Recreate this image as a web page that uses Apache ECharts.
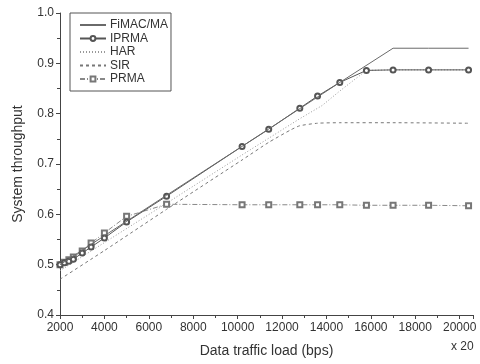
<!DOCTYPE html>
<html>
<head>
<meta charset="utf-8">
<script src="https://cdn.jsdelivr.net/npm/echarts@6/dist/echarts.min.js"></script>
<style>
  html, body { margin: 0; padding: 0; background: #fff; }
  #chart { width: 480px; height: 364px; }
</style>
</head>
<body>
<div id="chart"></div>
<script>
// Data traffic load (bps, x 20)
const loads = [2000, 2200, 2400, 2600, 3000, 3400, 4000, 5000, 6800, 10200, 11400, 12800, 13600, 14600, 15800, 17000, 18600, 20400];

const fimacLoads = [2000, 6800, 10200, 12800, 14600, 17000, 18600, 20400];
const fimac = [0.500, 0.638, 0.735, 0.810, 0.862, 0.930, 0.930, 0.930];

const iprma = [0.500, 0.504, 0.507, 0.511, 0.523, 0.535, 0.553, 0.585, 0.636, 0.735, 0.769, 0.811, 0.835, 0.862, 0.886, 0.887, 0.887, 0.887];

const harLoads = [2000, 6800, 10200, 12800, 13800, 14600, 15800, 17000, 18600, 20400];
const har = [0.488, 0.622, 0.718, 0.790, 0.816, 0.845, 0.886, 0.887, 0.887, 0.887];

const sirLoads = [2000, 4000, 6800, 10200, 11400, 12400, 12800, 13600, 14600, 17000, 20400];
const sir = [0.471, 0.528, 0.610, 0.708, 0.743, 0.768, 0.776, 0.781, 0.782, 0.782, 0.781];

const prma = [0.500, 0.505, 0.510, 0.515, 0.527, 0.543, 0.563, 0.596, 0.620, 0.619, 0.619, 0.619, 0.619, 0.619, 0.618, 0.618, 0.618, 0.617];

const yTicks = { min: 0.4, max: 1.0, step: 0.1 };
const xTicks = { min: 2000, max: 20600, step: 2000 };

const pair = (xs, ys) => xs.map((x, i) => [x, ys[i]]);

const chart = echarts.init(document.getElementById('chart'));
const font = 'Liberation Sans, Arial, sans-serif';
// legend entries for plain lines: hide the symbol, keep the line
const lineOnly = name => ({ name, itemStyle: { opacity: 0 } });

chart.setOption({
  animation: false,
  textStyle: { fontFamily: font },
  grid: { left: 60, top: 13, right: 7, bottom: 49 },
  legend: {
    left: 70,
    top: 13,
    orient: 'vertical',
    padding: [6, 3, 6, 9],
    itemGap: 1.5,
    itemWidth: 26,
    itemHeight: 6,
    borderColor: '#555',
    borderWidth: 1,
    textStyle: { fontSize: 12, lineHeight: 12, color: '#333', fontFamily: font, padding: [0, 0, 0, -1] },
    data: [lineOnly('FiMAC/MA'), 'IPRMA', lineOnly('HAR'), lineOnly('SIR'), 'PRMA']
  },
  xAxis: {
    type: 'value',
    min: xTicks.min,
    max: xTicks.max,
    interval: xTicks.step,
    name: 'Data traffic load (bps)',
    nameLocation: 'middle',
    nameGap: 29,
    nameTextStyle: { fontSize: 14, color: '#333' },
    axisLine: { lineStyle: { color: '#444', width: 1 } },
    axisTick: { length: 4, lineStyle: { color: '#444' } },
    minorTick: { show: true, splitNumber: 2, length: 3, lineStyle: { color: '#444' } },
    axisLabel: { fontSize: 12, color: '#333', margin: 7, showMaxLabel: false, formatter: v => String(v) },
    splitLine: { show: false }
  },
  yAxis: {
    type: 'value',
    min: yTicks.min,
    max: yTicks.max,
    interval: yTicks.step,
    name: 'System throughput',
    nameLocation: 'middle',
    nameGap: 35,
    nameTextStyle: { fontSize: 14, color: '#333' },
    axisLine: { show: true, lineStyle: { color: '#444', width: 1 } },
    axisTick: { show: true, length: 4, lineStyle: { color: '#444' } },
    minorTick: { show: true, splitNumber: 2, length: 3, lineStyle: { color: '#444' } },
    axisLabel: { fontSize: 12, color: '#333', margin: 6, formatter: v => v.toFixed(1) },
    splitLine: { show: false }
  },
  graphic: [{
    type: 'text',
    left: 451,
    top: 341,
    style: { text: 'x 20', fontSize: 12, fill: '#333', font: '12px ' + font }
  }],
  series: [
    {
      name: 'FiMAC/MA', type: 'line', data: pair(fimacLoads, fimac),
      symbol: 'none', z: 5,
      lineStyle: { color: '#6a6a6a', width: 1 },
      itemStyle: { color: '#6a6a6a' }
    },
    {
      name: 'IPRMA', type: 'line', data: pair(loads, iprma),
      symbol: 'emptyCircle', symbolSize: 5, z: 4,
      lineStyle: { color: '#555', width: 1 },
      itemStyle: { color: '#555', borderWidth: 1 }
    },
    {
      name: 'HAR', type: 'line', data: pair(harLoads, har),
      symbol: 'none', z: 3,
      lineStyle: { color: '#999', width: 1, type: [1, 2] },
      itemStyle: { color: '#999' }
    },
    {
      name: 'SIR', type: 'line', data: pair(sirLoads, sir),
      symbol: 'none', smooth: 0.2, z: 3,
      lineStyle: { color: '#777', width: 1, type: [3, 3] },
      itemStyle: { color: '#777' }
    },
    {
      name: 'PRMA', type: 'line', data: pair(loads, prma),
      symbol: 'emptyRect', symbolSize: 5, z: 3,
      lineStyle: { color: '#888', width: 1, type: [5, 2, 1, 2] },
      itemStyle: { color: '#777', borderWidth: 1 }
    }
  ]
});
</script>
</body>
</html>
